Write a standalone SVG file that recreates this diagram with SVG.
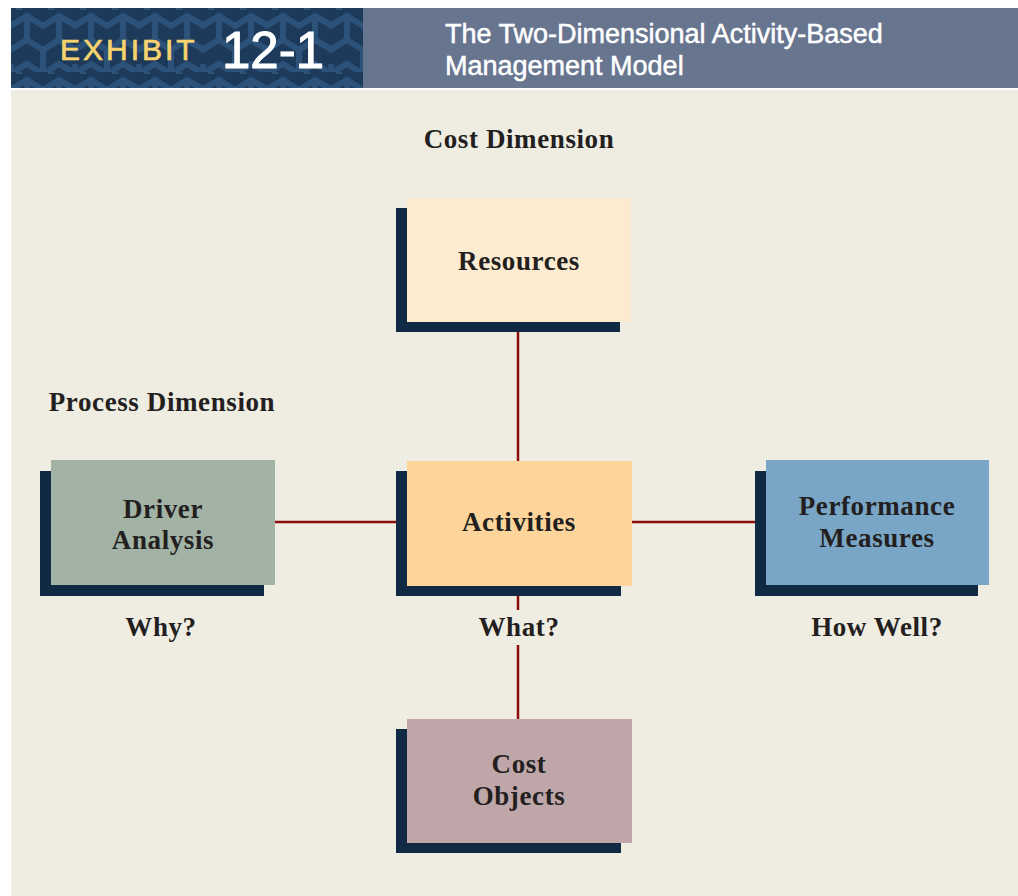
<svg xmlns="http://www.w3.org/2000/svg" width="1018" height="896" viewBox="0 0 1018 896">
<defs>
<pattern id="maze" x="11" y="8" width="64" height="64" patternUnits="userSpaceOnUse">
<rect width="64" height="64" fill="#1d3a5b"/>
<g fill="none" stroke="#2c5279" stroke-width="6">
<path d="M-4 20 L16 8 L32 18 L48 8 L68 20"/>
<path d="M-4 44 L16 32 L32 42 L48 32 L68 44"/>
<path d="M16 8 L16 32 M48 8 L48 32"/>
<path d="M0 56 L0 70 M32 42 L32 66 M64 56 L64 70"/>
<path d="M-4 68 L16 56 L32 66 L48 56 L68 68"/>
<path d="M8 -6 L8 2 M40 -6 L40 2"/>
</g>
</pattern>
<style>
.lbl{font-family:"Liberation Serif","Times New Roman",serif;font-weight:bold;font-size:27px;letter-spacing:0.6px;fill:#231f20;text-anchor:middle}
.sh{fill:#102a43}
.conn{stroke:#8c0c0c;stroke-width:2.5;fill:none}
.hd{font-family:"Liberation Sans",Arial,sans-serif}
</style>
</defs>
<rect width="1018" height="896" fill="#ffffff"/>
<rect x="11" y="90" width="1007" height="806" fill="#efece2"/>
<g id="header">
<rect x="11" y="8" width="352" height="80" fill="url(#maze)"/>
<rect x="363" y="8" width="655" height="80" fill="#67758f"/>
<text class="hd" x="60" y="60" font-size="30" letter-spacing="3" fill="#f6d36e" stroke="#f6d36e" stroke-width="0.7">EXHIBIT</text>
<text class="hd" x="222" y="68" font-size="51" fill="#ffffff" stroke="#ffffff" stroke-width="1">12-1</text>
<text class="hd" x="445" y="43" font-size="27" fill="#ffffff" stroke="#ffffff" stroke-width="0.5">The Two-Dimensional Activity-Based</text>
<text class="hd" x="445" y="75" font-size="27" fill="#ffffff" stroke="#ffffff" stroke-width="0.5">Management Model</text>
</g>
<g id="connectors">
<line class="conn" x1="518" y1="332" x2="518" y2="461"/>
<line class="conn" x1="275" y1="522" x2="396" y2="522"/>
<line class="conn" x1="632" y1="522" x2="755" y2="522"/>
<line class="conn" x1="518" y1="596" x2="518" y2="719"/>
</g>
<g id="cost-dimension"><text class="lbl" x="519" y="148">Cost Dimension</text></g>
<g id="process-dimension"><text class="lbl" x="162" y="411">Process Dimension</text></g>
<g id="resources">
<rect class="sh" x="396" y="208" width="224" height="124"/>
<rect x="407" y="198" width="224" height="124" fill="#fdebd1"/>
<text class="lbl" x="519" y="270">Resources</text>
</g>
<g id="driver-analysis">
<rect class="sh" x="40" y="471" width="224" height="125"/>
<rect x="51" y="460" width="224" height="125" fill="#a2b2a4"/>
<text class="lbl" x="163" y="518">Driver</text>
<text class="lbl" x="163" y="549">Analysis</text>
</g>
<g id="activities">
<rect class="sh" x="396" y="471" width="225" height="125"/>
<rect x="407" y="461" width="225" height="125" fill="#fdd59b"/>
<text class="lbl" x="519" y="531">Activities</text>
</g>
<g id="performance-measures">
<rect class="sh" x="755" y="471" width="223" height="125"/>
<rect x="766" y="460" width="223" height="125" fill="#79a5c6"/>
<text class="lbl" x="877" y="515">Performance</text>
<text class="lbl" x="877" y="547">Measures</text>
</g>
<g id="cost-objects">
<rect class="sh" x="396" y="729" width="225" height="124"/>
<rect x="407" y="719" width="225" height="124" fill="#bfa7a9"/>
<text class="lbl" x="519" y="773">Cost</text>
<text class="lbl" x="519" y="805">Objects</text>
</g>
<g id="why"><text class="lbl" x="161" y="636">Why?</text></g>
<g id="what">
<rect x="476" y="610" width="86" height="35" fill="#efece2"/>
<text class="lbl" x="519" y="636">What?</text>
</g>
<g id="how-well"><text class="lbl" x="877" y="636">How Well?</text></g>
</svg>
